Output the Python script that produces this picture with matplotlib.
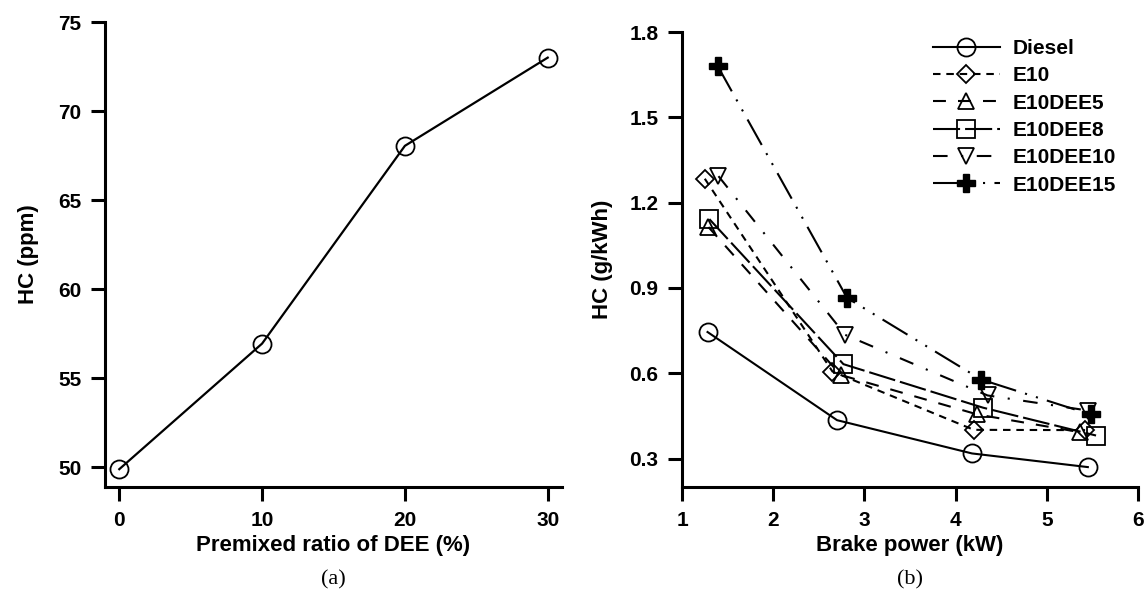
import matplotlib
matplotlib.use('Agg')
import matplotlib.pyplot as plt

plt.rcParams['font.family'] = ['Liberation Sans', 'DejaVu Sans']
plt.rcParams['font.weight'] = 'bold'
plt.rcParams['font.size'] = 15

# ---- panel (a): HC vs premixed DEE ratio
dee_ratio = [0, 10, 20, 30]
hc_ppm = [49.9, 56.95, 68.05, 73.0]

# ---- panel (b): HC vs brake power for each fuel
labels = ['Diesel', 'E10', 'E10DEE5', 'E10DEE8', 'E10DEE10', 'E10DEE15']
power_diesel = [1.28, 2.70, 4.18, 5.45]
hc_diesel = [0.745, 0.435, 0.318, 0.270]
power_e10 = [1.25, 2.65, 4.20, 5.42]
hc_e10 = [1.284, 0.606, 0.401, 0.400]
power_dee5 = [1.29, 2.74, 4.24, 5.36]
hc_dee5 = [1.114, 0.594, 0.455, 0.393]
power_dee8 = [1.30, 2.77, 4.30, 5.54]
hc_dee8 = [1.142, 0.632, 0.479, 0.381]
power_dee10 = [1.40, 2.79, 4.35, 5.45]
hc_dee10 = [1.293, 0.735, 0.522, 0.469]
power_dee15 = [1.39, 2.81, 4.28, 5.48]
hc_dee15 = [1.681, 0.865, 0.578, 0.455]

fig = plt.figure(figsize=(11.45, 5.94), dpi=100)
ax1 = fig.add_axes([105 / 1145, 1 - 487 / 594, 457 / 1145, 465 / 594])
ax2 = fig.add_axes([682 / 1145, 1 - 487 / 594, 456 / 1145, 455 / 594])

for ax in (ax1, ax2):
    ax.spines['top'].set_visible(False)
    ax.spines['right'].set_visible(False)
    ax.spines['left'].set_linewidth(2.2)
    ax.spines['bottom'].set_linewidth(2.2)
    ax.tick_params(direction='out', length=10, width=2.2, pad=7, labelsize=15)

# (a)
ax1.plot(dee_ratio, hc_ppm, color='black', lw=1.6, marker='o', ms=13,
         mfc='none', mec='black', mew=1.3)
ax1.set_xlim(-1, 31)
ax1.set_ylim(48.9, 75)
ax1.set_xticks([0, 10, 20, 30])
ax1.set_yticks([50, 55, 60, 65, 70, 75])
ax1.set_xlabel('Premixed ratio of DEE (%)', fontsize=16, fontweight='bold', labelpad=4)
ax1.set_ylabel('HC (ppm)', fontsize=16, fontweight='bold', labelpad=14)

# (b)
mk = dict(mfc='none', mec='black', mew=1.3, color='black', lw=1.5)
ax2.plot(power_diesel, hc_diesel, marker='o', ms=13, ls='-', label=labels[0], **mk)
ax2.plot(power_e10, hc_e10, marker='D', ms=9, ls=(0, (3.6, 2.8)), label=labels[1], **mk)
ax2.plot(power_dee5, hc_dee5, marker='^', ms=12, ls=(0, (6.2, 5.8)), label=labels[2], **mk)
ax2.plot(power_dee8, hc_dee8, marker='s', ms=13, ls=(0, (13, 2.4)), label=labels[3], **mk)
ax2.plot(power_dee10, hc_dee10, marker='v', ms=12, ls=(0, (7, 6.5, 1, 6.5)), label=labels[4], **mk)
ax2.plot(power_dee15, hc_dee15, marker='P', ms=13, color='black', mfc='black', mec='black',
         lw=1.5, ls=(0, (14, 4.5, 1, 4.5, 1, 4.5)), label=labels[5])
ax2.set_xlim(1, 6)
ax2.set_ylim(0.2, 1.8)
ax2.set_xticks([1, 2, 3, 4, 5, 6])
ax2.set_yticks([0.3, 0.6, 0.9, 1.2, 1.5, 1.8])
ax2.set_xlabel('Brake power (kW)', fontsize=16, fontweight='bold', labelpad=4)
ax2.set_ylabel('HC (g/kWh)', fontsize=16, fontweight='bold', labelpad=12)

ax2.legend(loc='upper left', bbox_to_anchor=(933 / 1145, 1 - 39 / 594), bbox_transform=fig.transFigure,
           frameon=False, handlelength=3.2, handletextpad=0.6, labelspacing=0.4,
           borderpad=0, borderaxespad=0, prop={'weight': 'bold', 'size': 15})

fig.text((105 + 562) / 2 / 1145, 1 - 580 / 594, '(a)', ha='center', va='center',
         family=['Liberation Serif', 'DejaVu Serif'], fontweight='normal', fontsize=16)
fig.text((682 + 1138) / 2 / 1145, 1 - 580 / 594, '(b)', ha='center', va='center',
         family=['Liberation Serif', 'DejaVu Serif'], fontweight='normal', fontsize=16)

fig.savefig('out.png', dpi=100)
